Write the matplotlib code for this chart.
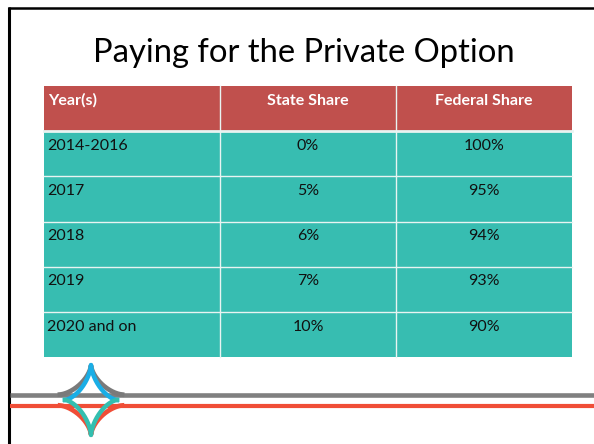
import numpy as np
import matplotlib
matplotlib.use('Agg')
import matplotlib.pyplot as plt
from matplotlib.patches import Rectangle

plt.rcParams['font.family'] = ['Lato', 'DejaVu Sans']

title = 'Paying for the Private Option'
headers = ['Year(s)', 'State Share', 'Federal Share']
years = ['2014-2016', '2017', '2018', '2019', '2020 and on']
state_share = ['0%', '5%', '6%', '7%', '10%']
federal_share = ['100%', '95%', '94%', '93%', '90%']

red = '#C0504D'
teal = '#37BDB1'

# everything in pixel units, y going down
fig = plt.figure(figsize=(5.94, 4.44), dpi=100)
ax = fig.add_axes([0, 0, 1, 1])
ax.set_xlim(0, 594)
ax.set_ylim(444, 0)
ax.axis('off')

# slide border (left and top only visible)
ax.plot([8.5, 8.5], [7.5, 444], color='black', lw=2.2, solid_capstyle='butt')
ax.plot([7.5, 594], [8, 8], color='black', lw=1.8, solid_capstyle='butt')

ax.text(304, 62, title, fontsize=23.6, ha='center', va='baseline', color='black')

# table
left, top = 44, 86
col_w = 176
row_h = 45.2
n_rows = len(years) + 1
for r in range(n_rows):
    for c in range(3):
        x0 = left + c * col_w
        y0 = top + r * row_h
        ax.add_patch(Rectangle((x0, y0), col_w, row_h, facecolor=red if r == 0 else teal,
                               edgecolor='none'))
# cell dividers
for c in range(1, 3):
    ax.plot([left + c * col_w] * 2, [top, top + n_rows * row_h], color='#E8F4F2', lw=1.0)
for r in range(1, n_rows):
    lw = 2.0 if r == 1 else 1.0
    ax.plot([left, left + 3 * col_w], [top + r * row_h] * 2, color='#E8F4F2', lw=lw)

fs = 11.5
# header
ax.text(left + 4, top + 19, headers[0], fontsize=fs, fontweight='bold', color='white',
        ha='left', va='baseline')
for c in (1, 2):
    ax.text(left + c * col_w + col_w / 2, top + 19, headers[c], fontsize=fs,
            fontweight='bold', color='white', ha='center', va='baseline')
# body
for i, (yr, s, f) in enumerate(zip(years, state_share, federal_share)):
    yb = top + (i + 1) * row_h + 18.5
    ax.text(left + 3, yb, yr, fontsize=fs, color='#111111', ha='left', va='baseline')
    ax.text(left + col_w * 1.5, yb, s, fontsize=fs, color='#111111', ha='center', va='baseline')
    ax.text(left + col_w * 2.5, yb, f, fontsize=fs, color='#111111', ha='center', va='baseline')

# footer decoration: two rules and a four-pointed star
ax.plot([10, 594], [394.5, 394.5], color='#808080', lw=3.3, solid_capstyle='butt')
ax.plot([10, 594], [405.5, 405.5], color='#F04E37', lw=3.0, solid_capstyle='butt')

cx = 91
t_up = np.linspace(np.pi, 2 * np.pi, 200)
t_dn = np.linspace(0, np.pi, 200)
ax.plot(cx + 31 * np.cos(t_up) ** 3, 394.5 + 29 * np.sin(t_up) ** 3, color='#7A7A7A', lw=3.4)
ax.plot(cx + 31 * np.cos(t_dn) ** 3, 405.5 + 29 * np.sin(t_dn) ** 3, color='#F04E37', lw=3.4)
ax.plot(cx + 26 * np.cos(t_up) ** 3, 400 + 35 * np.sin(t_up) ** 3, color='#1AAEE6', lw=3.2)
ax.plot(cx + 26 * np.cos(t_dn) ** 3, 400 + 35 * np.sin(t_dn) ** 3, color='#33BFB0', lw=3.2)

fig.savefig('out.png', dpi=100)
